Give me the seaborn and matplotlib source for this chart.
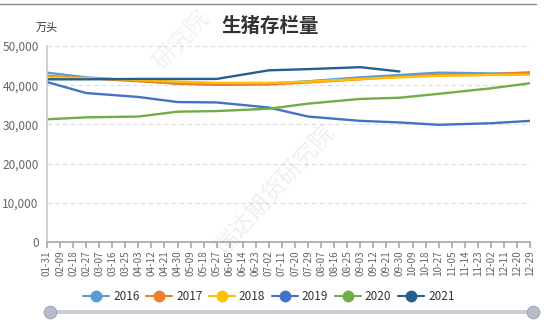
import numpy as np
import pandas as pd
import matplotlib
matplotlib.use("Agg")
import matplotlib.pyplot as plt
import seaborn as sns
from matplotlib.lines import Line2D
from matplotlib.patches import FancyBboxPatch

categories = ["01-31", "02-09", "02-18", "02-27", "03-07", "03-16", "03-25", "04-03",
              "04-12", "04-21", "04-30", "05-09", "05-18", "05-27", "06-05", "06-14",
              "06-23", "07-02", "07-11", "07-20", "07-29", "08-07", "08-16", "08-25",
              "09-03", "09-12", "09-21", "09-30", "10-09", "10-18", "10-27", "11-05",
              "11-14", "11-23", "12-02", "12-11", "12-20", "12-29"]

# monthly observation dates (category labels where each series has a value)
obs_dates = ["01-31", "02-27", "04-03", "04-30", "05-27", "07-02",
             "07-29", "09-03", "09-30", "10-27", "12-02", "12-29"]

s2016 = [43200, 42000, 41200, 40400, 40200, 40400, 41000, 42000, 42600, 43200, 43000, 43000]
s2017 = [42400, 41800, 41000, 40400, 40100, 40200, 40700, 41500, 42200, 42600, 42800, 43300]
s2018 = [42000, 41800, 41300, 40900, 40600, 40600, 40900, 41600, 42000, 42400, 42600, 42700]
s2019 = [40800, 38000, 37000, 35700, 35600, 34300, 32000, 30900, 30500, 29900, 30300, 30900]
s2020 = [31300, 31800, 32000, 33250, 33400, 34000, 35300, 36500, 36800, 37800, 39200, 40500]
s2021 = [41500, 41500, 41600, 41600, 41600, 43800, 44100, 44600, 43500, None, None, None]

years = ["2016", "2017", "2018", "2019", "2020", "2021"]
colors = ["#5B9BD5", "#ED7D31", "#FFC000", "#4472C4", "#70AD47", "#255E91"]
series = [s2016, s2017, s2018, s2019, s2020, s2021]

rows = []
for y, vals in zip(years, series):
    for d, v in zip(obs_dates, vals):
        if v is not None:
            rows.append({"date": d, "pos": categories.index(d), "value": v, "year": y})
df = pd.DataFrame(rows)

sns.set_theme(style="white")
plt.rcParams["font.family"] = ["Noto Sans CJK SC", "DejaVu Sans"]

fig = plt.figure(figsize=(5.5, 3.27), dpi=100)
ax = fig.add_axes([47/550, 1-242/327, (530-47)/550, (242-46)/327])

# watermark
fig.text(0.50, 0.42, "瑞达期货研究院", rotation=48, fontsize=17, color="#999999",
         alpha=0.16, ha="center", va="center")
fig.text(0.33, 0.88, "研究院", rotation=48, fontsize=17, color="#999999",
         alpha=0.13, ha="center", va="center")

sns.lineplot(data=df, x="pos", y="value", hue="year", palette=dict(zip(years, colors)),
             hue_order=years, linewidth=1.7, ax=ax, legend=False, sort=True)

ax.set_xlim(0, len(categories) - 1)
ax.set_ylim(0, 50000)
ax.set_yticks(np.arange(0, 50001, 10000))
ax.set_yticklabels([f"{v:,}" for v in range(0, 50001, 10000)], fontsize=8.5, color="#666666")
ax.set_xticks(range(len(categories)))
ax.set_xticklabels(categories, rotation=90, fontsize=7.2, color="#666666")
ax.set_xlabel("")
ax.set_ylabel("")
ax.grid(axis="y", linestyle=(0, (4, 3)), color="#DDDDDD", linewidth=0.8)
ax.grid(axis="x", visible=False)
for s in ["top", "right"]:
    ax.spines[s].set_visible(False)
ax.spines["left"].set_color("#CCCCCC")
ax.spines["bottom"].set_color("#AAAAAA")
ax.tick_params(axis="x", length=4, color="#AAAAAA", direction="out", pad=2, bottom=True)
ax.tick_params(axis="y", length=0, pad=6)

fig.text(270/550, 1-26/327, "生猪存栏量", fontsize=14, fontweight="bold",
         color="#333333", ha="center", va="center")
fig.text(47/550, 1-28/327, "万头", fontsize=8, color="#333333", ha="center", va="center")

# top border line
fig.add_artist(Line2D([0.0, 0.975], [1-4/327, 1-4/327], color="#888888", linewidth=1))

handles = [Line2D([0], [0], color=c, linewidth=1.5, marker="o", markersize=7.5,
                  markerfacecolor=c, markeredgecolor=c) for c in colors]
fig.legend(handles, years, loc="center", bbox_to_anchor=(269/550, 1-297/327), ncol=6,
           frameon=False, fontsize=8.5, handlelength=2.2, columnspacing=0.6,
           handletextpad=0.3, labelcolor="#333333")

# slider decoration
bar = FancyBboxPatch((47/550, 1-314/327), (530-47)/550, 4/327,
                     boxstyle="round,pad=0,rounding_size=0.004",
                     transform=fig.transFigure, facecolor="#C9CDD6", edgecolor="none")
fig.add_artist(bar)
fig.add_artist(Line2D([50/550, 533/550], [1-312/327, 1-312/327], linestyle="none",
                      marker="o", markersize=9, markerfacecolor="#B8BEC9",
                      markeredgecolor="#A0A7B4", markeredgewidth=0.8))

fig.savefig("out.png", dpi=100)
